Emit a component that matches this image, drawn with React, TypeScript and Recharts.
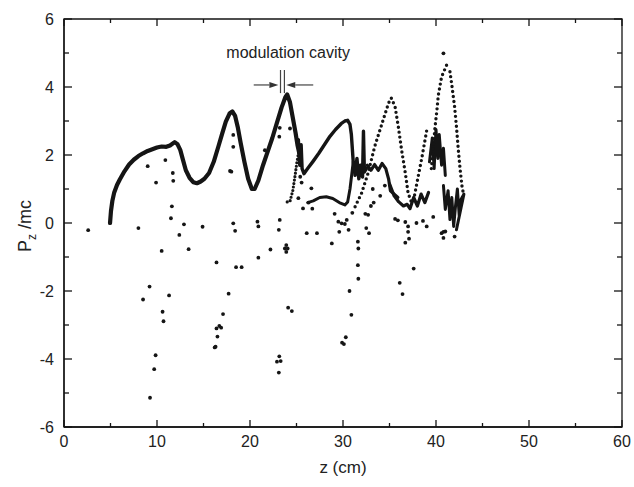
import React from 'react';
import {
  ScatterChart,
  Scatter,
  XAxis,
  YAxis,
  ReferenceArea,
  ReferenceLine,
  ReferenceDot,
} from 'recharts';

// chart size and plot frame
const W = 634;
const H = 487;
const MARGIN = { top: 19, right: 12, bottom: 0, left: 0 };
const Y_AXIS_W = 64;
const X_AXIS_H = 60;
const PLOT = { left: Y_AXIS_W, right: W - MARGIN.right, top: MARGIN.top, bottom: H - X_AXIS_H };

const INK = '#151515';
const FONT = '"Liberation Sans", Arial, Helvetica, sans-serif';

// axis ticks
const X_TICKS = [0, 5, 10, 15, 20, 25, 30, 35, 40, 45, 50, 55, 60];
const Y_TICKS = [-6, -5, -4, -3, -2, -1, 0, 1, 2, 3, 4, 5, 6];

// dense trajectories (z in cm, Pz/mc)
const curveA: [number, number][] = [
  [4.95, 0.0], [5.05, 0.35], [5.2, 0.65], [5.4, 0.9], [5.7, 1.12], [6.0, 1.28],
  [6.5, 1.52], [7.0, 1.72], [7.5, 1.86], [8.0, 1.97], [8.5, 2.05], [9.0, 2.12],
  [9.5, 2.17], [10.0, 2.22], [10.5, 2.25], [11.0, 2.24], [11.4, 2.28], [11.9, 2.38],
  [12.2, 2.32], [12.5, 2.15], [12.8, 1.85], [13.1, 1.55], [13.5, 1.33], [13.9, 1.2],
  [14.3, 1.17], [14.7, 1.22], [15.1, 1.3], [15.6, 1.47], [16.1, 1.8], [16.6, 2.25],
  [17.0, 2.62], [17.4, 2.98], [17.8, 3.22], [18.1, 3.28], [18.4, 3.15], [18.7, 2.8],
  [19.0, 2.35], [19.4, 1.8], [19.8, 1.3], [20.2, 1.0], [20.5, 1.0], [20.9, 1.25],
  [21.4, 1.7], [21.9, 2.1], [22.4, 2.5], [22.9, 2.95], [23.4, 3.4], [23.8, 3.7],
  [24.0, 3.78], [24.3, 3.55], [24.6, 3.1], [24.9, 2.65], [25.1, 2.3], [25.3, 2.05],
];

const curveB: [number, number][] = [
  [25.2, 2.45], [25.35, 1.7], [25.5, 2.3], [25.6, 1.6], [25.8, 1.45], [26.2, 1.6],
  [26.8, 1.82], [27.4, 2.05], [28.0, 2.3], [28.6, 2.55], [29.2, 2.75], [29.8, 2.92],
  [30.2, 3.0], [30.5, 3.02], [30.75, 2.9], [30.9, 2.6], [31.0, 2.2], [31.1, 1.8],
  [31.3, 1.4], [31.5, 1.9], [31.7, 1.3], [31.9, 1.7], [32.1, 1.35], [32.2, 2.7],
  [32.3, 1.5], [32.5, 1.6],
];

const curveC: [number, number][] = [
  [26.2, 0.6], [26.8, 0.65], [27.5, 0.75], [28.2, 0.77], [28.9, 0.72], [29.6, 0.6],
  [30.2, 0.53], [30.5, 0.62], [30.75, 1.0], [30.95, 1.45], [31.1, 1.8],
];

// busy clusters on the right
const clusterMid: [number, number][] = [
  [32.6, 1.7], [33.0, 1.55], [33.4, 1.72], [33.8, 1.55], [34.2, 1.75], [34.6, 1.6],
  [34.9, 1.3], [35.1, 0.95], [35.5, 0.85], [35.9, 0.75],
];
const clusterLow: [number, number][] = [
  [35.0, 1.15], [35.5, 0.8], [36.0, 0.62], [36.5, 0.5], [36.9, 0.55], [37.2, 0.42],
  [37.6, 0.75], [38.0, 0.5], [38.4, 0.85], [38.8, 0.6], [39.2, 0.9],
];
const clusterUpper: [number, number][] = [
  [39.3, 1.8], [39.6, 2.5], [39.8, 1.6], [40.0, 2.75], [40.2, 1.9], [40.35, 2.6],
  [40.6, 1.7], [40.8, 2.2], [41.0, 1.4],
];
const clusterRight: [number, number][] = [
  [40.8, 1.1], [41.0, 0.4], [41.3, 0.95], [41.5, 0.1], [41.7, 0.75], [41.9, -0.1],
  [42.1, 0.5], [42.3, 1.0], [42.5, 0.2], [42.7, 0.7], [43.0, 0.85], [42.2, -0.2],
];

// dotted branches
const branchI: [number, number][] = [
  [24.0, 0.62], [24.3, 0.64], [24.6, 0.95], [24.85, 1.4], [25.05, 1.8], [25.25, 2.1],
];
const branchD: [number, number][] = [
  [31.3, 0.48], [32.0, 0.88], [32.7, 1.47], [33.4, 2.24], [34.2, 2.93], [34.9, 3.53], [35.2, 3.67],
];
const branchE: [number, number][] = [
  [35.2, 3.67], [35.6, 3.42], [35.95, 2.83], [36.3, 2.15], [36.7, 1.47], [37.0, 0.88], [37.4, 0.58],
];
const branchH: [number, number][] = [
  [37.6, 0.68], [38.0, 1.25], [38.5, 1.95], [39.0, 2.72],
];
const branchF: [number, number][] = [
  [39.5, 1.6], [39.9, 2.83], [40.1, 3.32], [40.25, 3.76], [40.6, 4.3], [41.15, 4.65], [41.3, 4.72],
];
const branchG: [number, number][] = [
  [41.5, 4.45], [41.7, 4.06], [42.0, 3.42], [42.2, 2.83], [42.4, 2.15], [42.6, 1.56],
  [42.8, 1.07], [43.0, 0.8],
];

// isolated particles
const strays: [number, number][] = [
  [2.6, -0.21], [8.0, -0.15], [9.0, 1.67], [9.9, 1.19], [10.9, 1.85], [11.7, 1.47],
  [11.75, 1.24], [11.6, 0.49], [11.5, 0.14], [12.9, -0.04], [12.4, -0.35], [14.9, -0.11],
  [10.5, -0.82], [13.4, -0.77], [9.2, -1.87], [8.5, -2.25], [11.3, -2.13], [10.6, -2.61],
  [10.7, -2.89], [9.85, -3.89], [9.7, -4.3], [9.25, -5.14],
  [17.85, 1.53], [18.2, 2.59], [18.2, 2.24], [18.0, 1.51], [21.6, 2.14], [23.15, 2.54],
  [23.2, 2.8], [24.3, 2.78],
  [16.4, -1.16], [17.7, -2.08], [17.1, -2.68], [16.7, -3.03], [16.4, -3.1], [16.9, -3.08],
  [16.5, -3.34], [16.2, -3.66], [16.3, -3.64],
  [18.2, -0.01], [18.4, -0.23], [18.5, -1.3], [19.1, -1.3], [20.8, 0.04], [20.9, -0.1],
  [20.9, -1.02], [22.2, -0.78], [23.1, -0.2], [23.2, 0.09],
  [23.75, -0.75], [24.05, -0.75], [23.9, -0.65], [23.9, -0.85],
  [24.1, -2.49], [24.5, -2.59], [22.9, -4.08], [23.15, -3.92], [23.3, -4.06], [23.1, -4.4],
  [25.2, 0.73], [25.4, 1.36], [25.55, 1.19], [26.6, 1.02], [25.7, 0.43], [26.3, 0.6], [26.7, 0.42],
  [26.1, -0.3], [27.2, -0.3], [28.8, -0.6], [29.1, 0.27], [29.5, 0.04], [29.85, -0.01],
  [29.6, -0.26], [30.2, -0.03], [30.4, 0.09], [30.6, -0.2], [31.0, 0.3], [31.6, -0.55],
  [31.65, -0.75], [31.6, -1.24], [31.65, -1.64], [30.7, -2.0], [30.9, -2.7], [30.3, -3.36],
  [29.9, -3.52], [30.1, -3.56],
  [32.4, 0.27], [32.7, 0.24], [32.5, -0.15], [32.8, -0.3], [33.0, 0.5], [33.3, 0.6],
  [33.2, 1.0], [34.0, 0.8], [34.5, 1.1],
  [35.6, 0.12], [35.9, 0.08], [36.7, 0.03], [37.0, -0.1], [37.0, -0.26], [37.1, -0.46],
  [36.7, -0.58], [37.9, 0.0], [38.6, 0.06], [37.6, -1.34], [36.1, -1.76], [36.4, -2.09],
  [39.0, -0.1], [39.7, 0.18], [40.6, -0.3], [40.8, -0.26], [40.8, -0.44], [41.0, -0.25],
  [42.0, -0.4], [40.8, 4.99],
];

// "modulation cavity" marker, in data units
const ARROW_LEFT: [number, number][] = [[20.4, 4.06], [23.05, 4.06]];
const ARROW_RIGHT: [number, number][] = [[26.8, 4.06], [23.9, 4.06]];
const CAVITY_WALLS = [23.28, 23.7];
const CAVITY_SPAN: [number, number] = [3.82, 4.5];
const CAVITY_LABEL: [number, number] = [24.1, 5.03];

const toPts = (arr: [number, number][]) => arr.map(([z, p]) => ({ z, p }));

const XTick = (props: any) => {
  const { x, payload } = props;
  const v = payload.value;
  const major = v % 10 === 0;
  const len = major ? 7 : 4;
  return (
    <g>
      <line x1={x} x2={x} y1={PLOT.bottom} y2={PLOT.bottom - len} stroke={INK} strokeWidth={1.3} />
      <line x1={x} x2={x} y1={PLOT.top} y2={PLOT.top + len} stroke={INK} strokeWidth={1.3} />
      {major && (
        <text x={x} y={PLOT.bottom + 9} dy="0.71em" textAnchor="middle" fontSize={16} fontFamily={FONT} fill="#222">
          {v}
        </text>
      )}
    </g>
  );
};

const YTick = (props: any) => {
  const { y, payload } = props;
  const v = payload.value;
  const major = v % 2 === 0;
  const len = major ? 8 : 5;
  return (
    <g>
      <line x1={PLOT.left} x2={PLOT.left + len} y1={y} y2={y} stroke={INK} strokeWidth={1.3} />
      <line x1={PLOT.right} x2={PLOT.right - len} y1={y} y2={y} stroke={INK} strokeWidth={1.3} />
      {major && (
        <text x={PLOT.left - 10} y={y} dy="0.36em" textAnchor="end" fontSize={16} fontFamily={FONT} fill="#222">
          {v}
        </text>
      )}
    </g>
  );
};

const YLabel = (props: any) => {
  const vb = props.viewBox || { x: 0, y: PLOT.top, width: Y_AXIS_W, height: PLOT.bottom - PLOT.top };
  const cx = vb.x + 31;
  const cy = vb.y + vb.height / 2 + 3;
  return (
    <text
      x={cx}
      y={cy}
      transform={`rotate(-90, ${cx}, ${cy})`}
      textAnchor="middle"
      fontSize={18}
      fontFamily={FONT}
      fill="#222"
    >
      <tspan>P</tspan>
      <tspan dy={5} fontSize={12}>z</tspan>
      <tspan dy={-5}> /mc</tspan>
    </text>
  );
};

const Arrow = (props: any) => {
  const { x1, y1, x2, y2 } = props;
  const dir = x2 > x1 ? 1 : -1;
  const head = 9;
  return (
    <g>
      <line x1={x1} y1={y1} x2={x2 - dir * head} y2={y2} stroke="#444" strokeWidth={1.2} />
      <polygon
        points={`${x2},${y2} ${x2 - dir * head},${y2 - 3} ${x2 - dir * head},${y2 + 3}`}
        fill="#333"
      />
    </g>
  );
};

const dot = (r: number) => (p: any) => <circle cx={p.cx} cy={p.cy} r={r} fill={INK} />;
const none = () => <g />;

const solid = (w: number) => ({
  stroke: INK,
  strokeWidth: w,
  strokeLinejoin: 'round' as const,
  strokeLinecap: 'round' as const,
});
const dotted = (w: number, gap: number) => ({
  stroke: INK,
  strokeWidth: w,
  strokeLinecap: 'round' as const,
  strokeDasharray: `0 ${gap}`,
});

export default function App() {
  return (
    <div style={{ position: 'absolute', left: 0, top: 0, width: W, height: H, background: '#fff' }}>
      <ScatterChart width={W} height={H} margin={MARGIN}>
        <XAxis
          type="number"
          dataKey="z"
          domain={[0, 60]}
          ticks={X_TICKS}
          interval={0}
          tick={<XTick />}
          tickLine={false}
          axisLine={{ stroke: INK, strokeWidth: 1.3 }}
          height={X_AXIS_H}
          allowDataOverflow
          label={{ value: 'z (cm)', position: 'insideBottom', offset: 14, fontSize: 17, fontFamily: FONT, fill: '#222' }}
        />
        <YAxis
          type="number"
          dataKey="p"
          domain={[-6, 6]}
          ticks={Y_TICKS}
          interval={0}
          tick={<YTick />}
          tickLine={false}
          axisLine={{ stroke: INK, strokeWidth: 1.3 }}
          width={Y_AXIS_W}
          allowDataOverflow
          label={<YLabel />}
        />
        <ReferenceArea x1={0} x2={60} y1={-6} y2={6} fill="none" stroke={INK} strokeWidth={1.3} ifOverflow="visible" />

        <Scatter data={toPts(curveA)} fill={INK} shape={none} line={solid(4.2)} isAnimationActive={false} />
        <Scatter data={toPts(curveB)} fill={INK} shape={none} line={solid(3.4)} isAnimationActive={false} />
        <Scatter data={toPts(curveC)} fill={INK} shape={none} line={solid(3)} isAnimationActive={false} />
        <Scatter data={toPts(clusterMid)} fill={INK} shape={none} line={solid(3.2)} isAnimationActive={false} />
        <Scatter data={toPts(clusterLow)} fill={INK} shape={none} line={solid(3.2)} isAnimationActive={false} />
        <Scatter data={toPts(clusterUpper)} fill={INK} shape={none} line={solid(3)} isAnimationActive={false} />
        <Scatter data={toPts(clusterRight)} fill={INK} shape={none} line={solid(3)} isAnimationActive={false} />

        <Scatter data={toPts(branchI)} fill={INK} shape={none} line={dotted(3.2, 3.5)} isAnimationActive={false} />
        <Scatter data={toPts(branchD)} fill={INK} shape={none} line={dotted(3.4, 5)} isAnimationActive={false} />
        <Scatter data={toPts(branchE)} fill={INK} shape={none} line={dotted(3.4, 5)} isAnimationActive={false} />
        <Scatter data={toPts(branchH)} fill={INK} shape={none} line={dotted(3.4, 5)} isAnimationActive={false} />
        <Scatter data={toPts(branchF)} fill={INK} shape={none} line={dotted(3.4, 5)} isAnimationActive={false} />
        <Scatter data={toPts(branchG)} fill={INK} shape={none} line={dotted(3.4, 5)} isAnimationActive={false} />

        <Scatter data={toPts(strays)} fill={INK} shape={dot(1.9)} isAnimationActive={false} />

        <ReferenceLine
          segment={ARROW_LEFT.map(([x, y]) => ({ x, y }))}
          shape={<Arrow />}
          ifOverflow="visible"
        />
        <ReferenceLine
          segment={ARROW_RIGHT.map(([x, y]) => ({ x, y }))}
          shape={<Arrow />}
          ifOverflow="visible"
        />
        {CAVITY_WALLS.map((z) => (
          <ReferenceLine
            key={z}
            segment={[{ x: z, y: CAVITY_SPAN[0] }, { x: z, y: CAVITY_SPAN[1] }]}
            stroke="#444"
            strokeWidth={1.2}
            ifOverflow="visible"
          />
        ))}
        <ReferenceDot
          x={CAVITY_LABEL[0]}
          y={CAVITY_LABEL[1]}
          r={1}
          fill="none"
          stroke="none"
          label={{ value: 'modulation cavity', position: 'center', fontSize: 16, fontFamily: FONT, fill: '#222' }}
        />
      </ScatterChart>
    </div>
  );
}
